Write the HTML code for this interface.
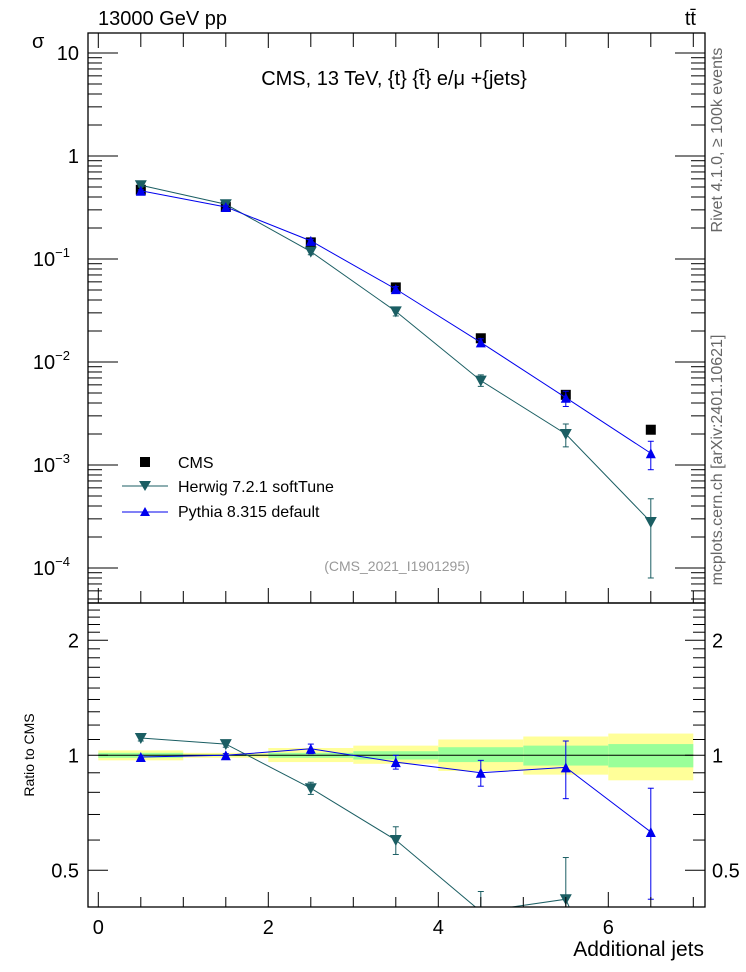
<!DOCTYPE html>
<html><head><meta charset="utf-8"><style>
html,body{margin:0;padding:0;background:#fff;overflow:hidden;}
svg{display:block;}
svg text{font-family:"Liberation Sans",sans-serif;}
</style></head><body>
<svg id="c" width="746" height="972" xmlns="http://www.w3.org/2000/svg"></svg>
<script>
const xCenters=[0.5,1.5,2.5,3.5,4.5,5.5,6.5];
const binEdges=[0,1,2,3,4,5,6,7];
const cmsVals=[0.47,0.32,0.145,0.053,0.017,0.0048,0.0022];
const herwigVals=[0.52,0.34,0.118,0.031,0.0066,0.002,0.00028];
const herwigLo=[0.5,0.33,0.11,0.028,0.0058,0.0015,0.00008];
const herwigHi=[0.54,0.35,0.126,0.034,0.0075,0.0025,0.00047];
const pythiaVals=[0.46,0.32,0.15,0.051,0.0155,0.0045,0.0013];
const pythiaLo=[0.45,0.31,0.145,0.048,0.0142,0.0037,0.0009];
const pythiaHi=[0.47,0.33,0.155,0.054,0.0168,0.0052,0.0017];
const herwigRatio=[1.11,1.07,0.82,0.6,0.39,0.42,0.13];
const herwigRatioLo=[1.09,1.05,0.79,0.55,0.34,0.3,0.05];
const herwigRatioHi=[1.13,1.09,0.85,0.65,0.44,0.54,0.2];
const pythiaRatio=[0.99,1.0,1.04,0.96,0.9,0.93,0.63];
const pythiaRatioLo=[0.98,0.99,1.01,0.92,0.83,0.77,0.42];
const pythiaRatioHi=[1.0,1.01,1.07,1.0,0.97,1.09,0.82];
const yellowLo=[0.97,0.985,0.96,0.95,0.91,0.89,0.86];
const yellowHi=[1.03,1.015,1.045,1.06,1.10,1.12,1.14];
const greenLo=[0.985,0.995,0.985,0.975,0.96,0.94,0.93];
const greenHi=[1.015,1.005,1.015,1.025,1.05,1.06,1.07];
const xTicks=[0,2,4,6];
const yTicks=[10,1,0.1,0.01,0.001,0.0001];
const yTickLabels=["10","1","10","10","10","10"];
const yTickExp=["","","−1","−2","−3","−4"];
const rTicks=[2,1,0.5];

const L=88,R=705,T=33,M=603,B=907;
const X=v=>98.3+(v)*85;
const Y=v=>53+(1-Math.log10(v))*103;
const RY=v=>755.3-Math.log10(v)*382;
const svg=document.getElementById('c');
const NS="http://www.w3.org/2000/svg";
function el(tag,attrs,name,parent){const e=document.createElementNS(NS,tag);for(const k in attrs)e.setAttribute(k,attrs[k]);


(parent||svg).appendChild(e);return e;}
function txt(x,y,s,size,name,opts){const t=el('text',Object.assign({x:x,y:y,'font-size':size},opts||{}),name);t.textContent=s;return t;}

const defs=el('defs',{},'defs');
const cp1=el('clipPath',{id:'cm'},'clip-main',defs);el('rect',{x:L,y:T,width:R-L,height:M-T},'clip-rect',cp1);
const cp2=el('clipPath',{id:'cr'},'clip-ratio',defs);el('rect',{x:L,y:M,width:R-L,height:B-M},'clip-rect',cp2);

const gR=el('g',{'clip-path':'url(#cr)'},'ratio-plot');
for(let i=0;i<xCenters.length;i++){
 el('rect',{x:X(binEdges[i]),y:RY(yellowHi[i]),width:85,height:RY(yellowLo[i])-RY(yellowHi[i]),fill:'#ffff99'},'band-yellow',gR);
 el('rect',{x:X(binEdges[i]),y:RY(greenHi[i]),width:85,height:RY(greenLo[i])-RY(greenHi[i]),fill:'#99ff99'},'band-green',gR);
}
el('line',{x1:X(0),x2:X(7),y1:RY(1),y2:RY(1),stroke:'#000','stroke-width':1},'ratio-ref-line',gR);

function series(g,xs,vals,lo,hi,Yf,color,marker,name){
 let d='';xs.forEach((x,i)=>{d+=(i?'L':'M')+X(x)+','+Yf(vals[i]);});
 el('path',{d:d,fill:'none',stroke:color,'stroke-width':1},name+'-line',g);
 xs.forEach((x,i)=>{
  const cx=X(x),cy=Yf(vals[i]);
  if(lo){el('line',{x1:cx,x2:cx,y1:Yf(hi[i]),y2:Yf(lo[i]),stroke:color,'stroke-width':1},name+'-error',g);
   el('line',{x1:cx-3,x2:cx+3,y1:Yf(hi[i]),y2:Yf(hi[i]),stroke:color},name+'-error-cap',g);
   el('line',{x1:cx-3,x2:cx+3,y1:Yf(lo[i]),y2:Yf(lo[i]),stroke:color},name+'-error-cap',g);}
  if(marker==='down')el('path',{d:`M${cx-6},${cy-5}L${cx+6},${cy-5}L${cx},${cy+6}Z`,fill:color},name+'-point',g);
  else if(marker==='up')el('path',{d:`M${cx-5},${cy+5}L${cx+5},${cy+5}L${cx},${cy-5}Z`,fill:color},name+'-point',g);
  else el('rect',{x:cx-5,y:cy-5,width:10,height:10,fill:color},name+'-point',g);
 });
}
series(gR,xCenters,herwigRatio,herwigRatioLo,herwigRatioHi,RY,'#1b5e63','down','herwig-ratio');
series(gR,xCenters,pythiaRatio,pythiaRatioLo,pythiaRatioHi,RY,'#0000ee','up','pythia-ratio');

const gM=el('g',{'clip-path':'url(#cm)'},'main-plot');
xCenters.forEach((x,i)=>el('rect',{x:X(x)-5,y:Y(cmsVals[i])-5,width:10,height:10,fill:'#000'},'cms-point',gM));
series(gM,xCenters,herwigVals,herwigLo,herwigHi,Y,'#1b5e63','down','herwig');
series(gM,xCenters,pythiaVals,pythiaLo,pythiaHi,Y,'#0000ee','up','pythia');

el('rect',{x:L,y:T,width:R-L,height:M-T,fill:'none',stroke:'#000','stroke-width':1.3},'main-frame');
el('rect',{x:L,y:M,width:R-L,height:B-M,fill:'none',stroke:'#000','stroke-width':1.3},'ratio-frame');

for(let v=0;v<=7;v+=0.5){const big=(v%2===0);
 if(X(v)>R)continue;
 el('line',{x1:X(v),x2:X(v),y1:T,y2:T+(big?15:14),stroke:'#000'},'x-tick',null);
 el('line',{x1:X(v),x2:X(v),y1:M,y2:M-(big?15:12),stroke:'#000'},'x-tick',null);
 el('line',{x1:X(v),x2:X(v),y1:B,y2:B-(big?15:10),stroke:'#000'},'x-tick',null);
}
xTicks.forEach(v=>txt(X(v),934,String(v),20,'x-tick-label',{'text-anchor':'middle'}));
txt(704,956,'Additional jets',21,'x-axis-title',{'text-anchor':'end'});

for(let e=-5;e<=1;e++){for(let m=1;m<10;m++){const v=m*Math.pow(10,e);const y=Y(v);if(y<T||y>M)continue;
 const w=m===1?30:14;el('line',{x1:L,x2:L+w,y1:y,y2:y,stroke:'#000'},'y-tick');el('line',{x1:R,x2:R-w,y1:y,y2:y,stroke:'#000'},'y-tick');}}
yTicks.forEach((v,i)=>{const t=txt(79,Y(v)+7,yTickLabels[i],20,'y-tick-label',{'text-anchor':'end'});
 if(yTickExp[i]){t.setAttribute('x',70);const s=document.createElementNS(NS,'tspan');s.setAttribute('font-size',13);s.setAttribute('dy',-9);s.textContent=yTickExp[i];t.appendChild(s);}});
txt(32,48,'σ',20,'y-axis-title',{});

for(let v=0.4;v<=2.5;v+=0.1){const y=RY(v);if(y<M||y>B)continue;const big=[0.5,1,2].some(k=>Math.abs(k-v)<1e-6);const w=big?20:12;
 el('line',{x1:L,x2:L+w,y1:y,y2:y,stroke:'#000'},'ratio-y-tick');el('line',{x1:R,x2:R-w,y1:y,y2:y,stroke:'#000'},'ratio-y-tick');}
rTicks.forEach(v=>{txt(79,RY(v)+7,String(v),20,'ratio-tick-label',{'text-anchor':'end'});txt(712,RY(v)+7,String(v),20,'ratio-tick-label-right',{});});
txt(34,755,'Ratio to CMS',14,'ratio-axis-title',{'text-anchor':'middle',transform:'rotate(-90 34 755)'});

txt(98,25,'13000 GeV pp',20,'energy-label',{});
txt(696,25,'tt̄',20,'process-label',{'text-anchor':'end'});
txt(394,85,'CMS, 13 TeV, {t} {t̄} e/μ +{jets}',20,'plot-title',{'text-anchor':'middle'});
txt(397,571,'(CMS_2021_I1901295)',14,'analysis-label',{'text-anchor':'middle',fill:'#999'});
txt(722,140,'Rivet 4.1.0, ≥ 100k events',16,'rivet-label',{'text-anchor':'middle',fill:'#666',transform:'rotate(-90 722 140)'});
txt(722,460,'mcplots.cern.ch [arXiv:2401.10621]',16,'mcplots-label',{'text-anchor':'middle',fill:'#666',transform:'rotate(-90 722 460)'});

el('rect',{x:140,y:457,width:10,height:10,fill:'#000'},'legend-cms-marker');
txt(178,468,'CMS',16,'legend-cms-label',{});
el('line',{x1:122,x2:168,y1:486,y2:486,stroke:'#1b5e63'},'legend-herwig-line');
el('path',{d:'M139,481L151,481L145,491Z',fill:'#1b5e63'},'legend-herwig-marker');
txt(178,492,'Herwig 7.2.1 softTune',16,'legend-herwig-label',{});
el('line',{x1:122,x2:168,y1:512,y2:512,stroke:'#0000ee'},'legend-pythia-line');
el('path',{d:'M140,516L150,516L145,507Z',fill:'#0000ee'},'legend-pythia-marker');
txt(178,517,'Pythia 8.315 default',16,'legend-pythia-label',{});
</script>
</body></html>
